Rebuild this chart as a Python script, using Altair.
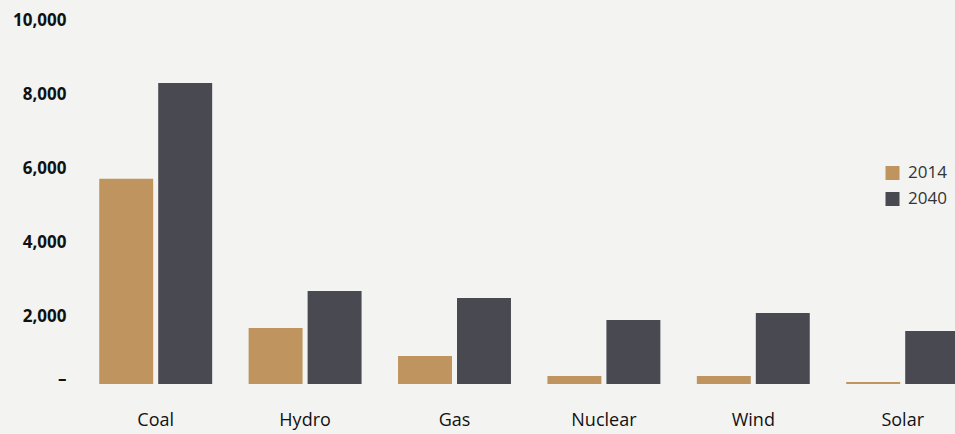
import altair as alt
import pandas as pd

# Generation by source, 2014 vs 2040
sources = ["Coal", "Hydro", "Gas", "Nuclear", "Wind", "Solar"]
years = ["2014", "2040"]
values_2014 = [5530, 1510, 755, 216, 216, 54]
values_2040 = [8113, 2507, 2318, 1725, 1914, 1429]
bar_colors = ["#BF945F", "#494951"]
y_ticks = [0, 2000, 4000, 6000, 8000, 10000]

rows = []
for s, a, b in zip(sources, values_2014, values_2040):
    rows.append({"source": s, "year": years[0], "value": a})
    rows.append({"source": s, "year": years[1], "value": b})
df = pd.DataFrame(rows)

FONT = "Open Sans"

chart = (
    alt.Chart(df)
    .mark_bar()
    .encode(
        x=alt.X(
            "source:N",
            sort=sources,
            scale=alt.Scale(range=[0, 896.4], paddingInner=0.244, paddingOuter=0.122),
            axis=alt.Axis(
                title=None,
                domain=False,
                ticks=False,
                labelAngle=0,
                labelFont=FONT,
                labelFontSize=18,
                labelColor="#111111",
                labelBaseline="top",
                labelPadding=27,
            ),
        ),
        xOffset=alt.XOffset(
            "year:N", sort=years, scale=alt.Scale(paddingInner=0.085, paddingOuter=0)
        ),
        y=alt.Y(
            "value:Q",
            scale=alt.Scale(domain=[0, 10000], nice=False),
            axis=alt.Axis(
                title=None,
                values=y_ticks,
                labelExpr="datum.value === 0 ? '\u2013\u2009' : format(datum.value, ',')",
                domain=False,
                ticks=False,
                grid=False,
                labelFont=FONT,
                labelFontSize=17,
                labelFontWeight="bold",
                labelColor="#111111",
                labelPadding=15,
                labelOffset={"condition": {"test": "datum.value === 0", "value": -5}, "value": 7},
            ),
        ),
        color=alt.Color(
            "year:N",
            scale=alt.Scale(domain=years, range=bar_colors),
            legend=alt.Legend(
                title=None,
                orient="none",
                legendX=803,
                legendY=151.5,
                symbolType="square",
                symbolSize=196,
                symbolStrokeWidth=0,
                labelFont=FONT,
                labelFontSize=17,
                labelColor="#333333",
                labelOffset=7,
                rowPadding=8,
            ),
        ),
    )
    .properties(
        width=874,
        height=371,
        autosize=alt.AutoSizeParams(type="none"),
        padding={"left": 81, "top": 13, "right": 0, "bottom": 50},
    )
    .configure(background="#F3F4F2")
    .configure_view(stroke=None)
)

chart.save("out.html", embed_options={"renderer": "svg", "actions": False})
